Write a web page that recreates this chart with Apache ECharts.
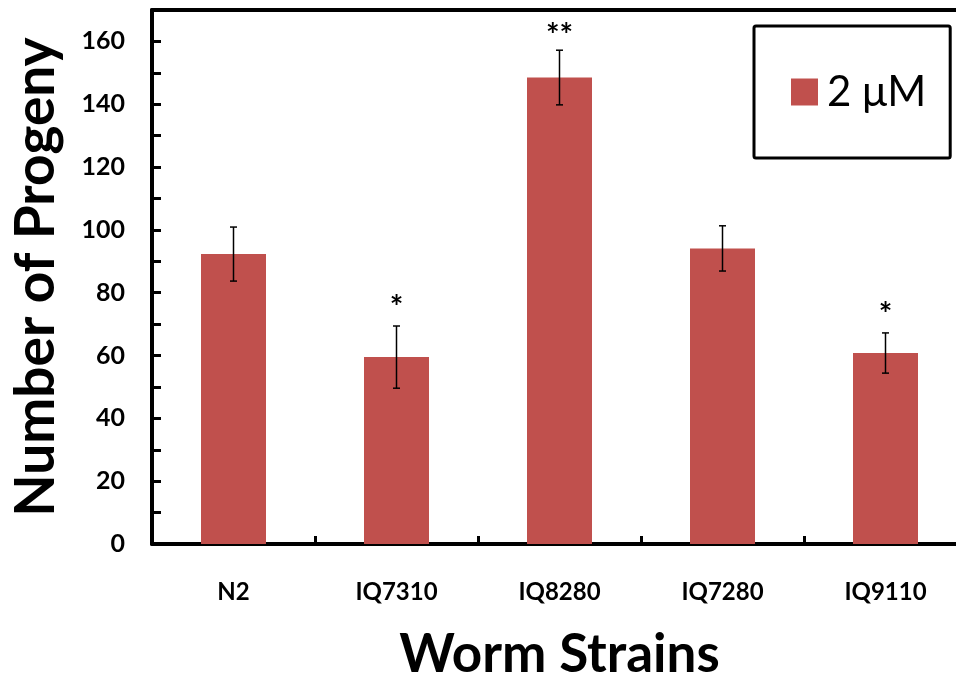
<!DOCTYPE html>
<html>
<head>
<meta charset="utf-8">
<script src="https://cdn.jsdelivr.net/npm/echarts@6/dist/echarts.min.js"></script>
<style>html,body{margin:0;padding:0;background:#fff}#c{width:956px;height:681px}</style>
</head>
<body>
<div id="c"></div>
<script>
const categories = ['N2', 'IQ7310', 'IQ8280', 'IQ7280', 'IQ9110'];
const seriesName = '2 μM';
const means = [92.3, 59.5, 148.5, 94.1, 60.8];
const errors = [8.6, 9.9, 8.7, 7.2, 6.4];
const significance = ['', '*', '**', '', '*'];
const yTickLabels = [0, 20, 40, 60, 80, 100, 120, 140, 160];

const FONT = 'Lato';
const chart = echarts.init(document.getElementById('c'), null, {renderer: 'canvas'});
chart.setOption({
  animation: false,
  backgroundColor: '#fff',
  grid: {left: 152, top: 10, right: -11, bottom: 137, containLabel: false, outerBoundsMode: 'none'},
  legend: {
    show: true,
    left: 754, top: 26,
    data: [seriesName],
    orient: 'vertical',
    itemWidth: 27, itemHeight: 27, itemGap: 0,
    padding: [45, 24, 45, 37],
    borderColor: '#000', borderWidth: 3, borderRadius: 2,
    textStyle: {fontFamily: FONT, fontSize: 42, color: '#000', padding: [0, 0, 0, 4]},
    icon: 'rect'
  },
  xAxis: [{
    type: 'category',
    data: categories,
    position: 'bottom',
    axisLine: {show: true, lineStyle: {color: '#000', width: 4}},
    axisTick: {show: true, inside: true, length: 8, lineStyle: {color: '#000', width: 3}},
    axisLabel: {margin: 36, fontFamily: FONT, fontWeight: 'bold', fontSize: 24, color: '#000'},
    splitLine: {show: false},
    name: 'Worm Strains',
    nameLocation: 'middle',
    nameGap: 84,
    nameTextStyle: {fontFamily: FONT, fontWeight: 'bold', fontSize: 53, color: '#000'}
  }, {
    type: 'category',
    data: categories,
    position: 'top',
    axisLine: {show: true, onZero: false, lineStyle: {color: '#000', width: 4}},
    axisTick: {show: false},
    axisLabel: {show: false},
    splitLine: {show: false}
  }],
  yAxis: {
    type: 'value',
    min: 0, max: 170, interval: 10,
    axisLine: {show: true, lineStyle: {color: '#000', width: 4}},
    axisTick: {show: true, inside: true, length: 9, lineStyle: {color: '#000', width: 3}},
    axisLabel: {
      margin: 27, fontFamily: FONT, fontWeight: 'bold', fontSize: 25, color: '#000',
      formatter: v => yTickLabels.indexOf(v) >= 0 ? String(v) : ''
    },
    splitLine: {show: false},
    name: 'Number of Progeny',
    nameLocation: 'middle',
    nameGap: 88,
    nameTextStyle: {fontFamily: FONT, fontWeight: 'bold', fontSize: 55, color: '#000'}
  },
  series: [{
    name: seriesName,
    type: 'bar',
    data: means,
    barWidth: 65,
    itemStyle: {color: '#C0504D'}
  }, {
    type: 'custom',
    name: 'err',
    data: categories.map((c, i) => [i, means[i] - errors[i], means[i] + errors[i], significance[i]]),
    z: 10,
    renderItem: function (params, api) {
      const x = api.coord([api.value(0), 0])[0];
      const lo = api.coord([api.value(0), api.value(1)])[1];
      const hi = api.coord([api.value(0), api.value(2)])[1];
      const cap = 3.5;
      const st = {stroke: '#000', lineWidth: 1.5};
      const ch = [
        {type: 'line', shape: {x1: x, y1: lo, x2: x, y2: hi}, style: st},
        {type: 'line', shape: {x1: x - cap, y1: lo, x2: x + cap, y2: lo}, style: st},
        {type: 'line', shape: {x1: x - cap, y1: hi, x2: x + cap, y2: hi}, style: st}
      ];
      const s = significance[params.dataIndex];
      if (s) {
        ch.push({type: 'text', x: x, y: hi + (s.length > 1 ? 2 : -1), style: {
          text: s, fontFamily: FONT, fontWeight: 'bold', fontSize: 32, fill: '#000',
          align: 'center', verticalAlign: 'bottom'
        }});
      }
      return {type: 'group', children: ch};
    }
  }]
});
</script>
</body>
</html>
